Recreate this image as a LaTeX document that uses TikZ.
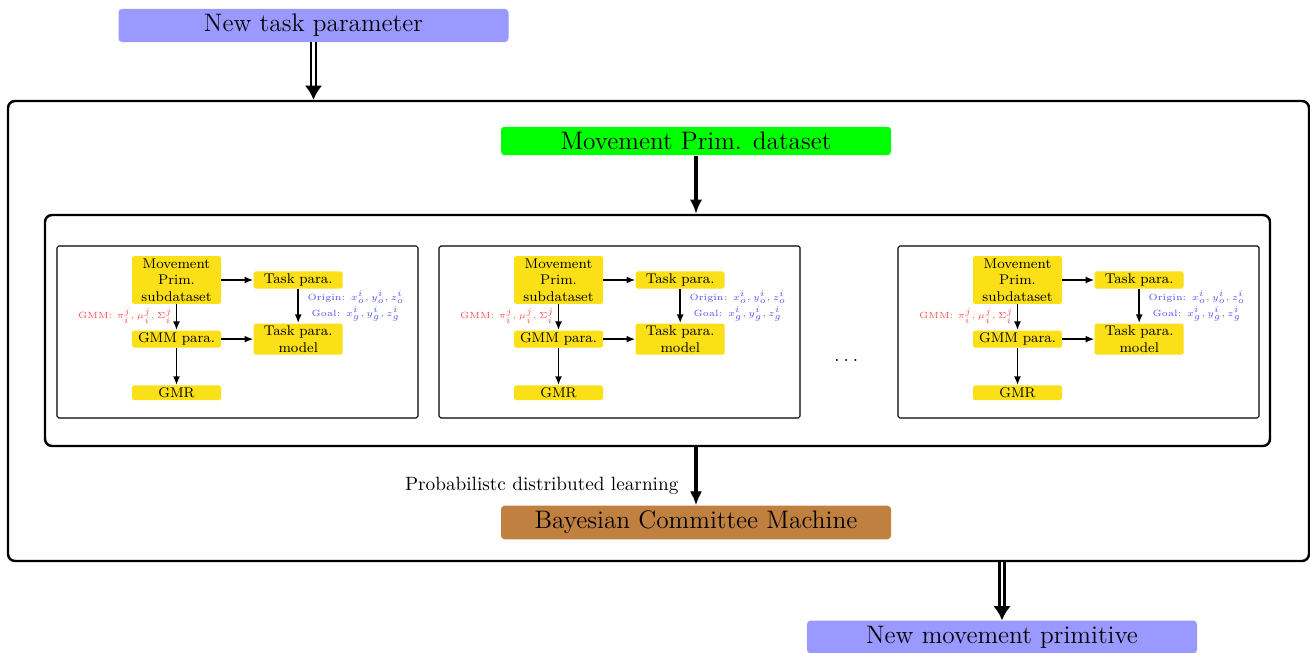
\documentclass[tikz,border=0pt]{standalone}
\usepackage{amsmath, amssymb}
\usepackage{tikz}
\usetikzlibrary{arrows.meta, positioning, calc}
\definecolor{ParaBlue}{HTML}{9999FF}
\definecolor{DataGreen}{HTML}{00FF00}
\definecolor{BcmBrown}{HTML}{C08040}
\definecolor{SubYellow}{HTML}{FBE017}
\definecolor{GmmRed}{HTML}{FF4D4D}
\definecolor{GoalBlue}{HTML}{4D4DFF}

\begin{document}
\begin{tikzpicture}[>=Latex, node distance=0.6cm]
        \tikzstyle{bigbox}     = [rectangle, rounded corners=2pt, minimum width=7.8cm, inner ysep=3pt, font=\Large]
        \tikzstyle{outerframe} = [rectangle, draw, line width=1.4pt, rounded corners=4pt]
        \tikzstyle{subframe}   = [rectangle, draw, semithick, rounded corners=1pt, minimum width=7.22cm, minimum height=3.44cm]
        \tikzstyle{ybox}       = [rectangle, fill=SubYellow, rounded corners=1pt, text width=1.6cm, inner xsep=0.09cm, inner ysep=1.3pt, align=center, font=\footnotesize]
        \tikzstyle{tinylabel}  = [font=\fontsize{5.1}{9}\selectfont, inner sep=2pt]
        \tikzstyle{bigarrow}   = [-{Latex[length=8pt,width=7pt]}, line width=2pt]
        \tikzstyle{dblarrow}   = [-{Latex[length=8pt,width=10pt]}, double, ultra thick, double distance=1.2pt]
        \tikzstyle{smallarrow} = [-{Latex[length=5pt,width=4pt]}, line width=1pt]

        \useasboundingbox (0,0) rectangle (26.2,-13.06);

        % Frames
        \node[outerframe, minimum width=26.02cm, minimum height=9.2cm] (outer) at (13.17,-6.62) {};
        \node[outerframe, minimum width=24.5cm, minimum height=4.62cm] (inner) at (13.15,-6.61) {};

        % Main boxes
        \node[bigbox, fill=ParaBlue] (task) at (6.27,-0.51) {New task parameter};
        \node[bigbox, fill=DataGreen] (mpd) at (13.92,-2.82) {Movement Prim. dataset};
        \node[bigbox, fill=BcmBrown] (bcm) at (13.92,-10.45) {Bayesian Committee Machine};
        \node[bigbox, fill=ParaBlue] (newmp) at (20.04,-12.74) {New movement primitive};

        % Sub-datasets
        \foreach \k/\x in {a/1.14, b/8.78, c/17.96} {
            \node[subframe] (box\k) at ({\x+3.61},-6.64) {};
            \node[ybox] (sub\k) at ({\x+2.39},-5.6) {Movement Prim. subdataset};
            \node[ybox, right=0.64cm of sub\k] (tp\k) {Task para.};
            \node[ybox, below=0.52cm of sub\k] (gmm\k) {GMM para.};
            \node[ybox, right=0.64cm of gmm\k] (tpm\k) {Task para.\\ model};
            \node[ybox, below=0.74cm of gmm\k] (gmr\k) {GMR};

            \draw[smallarrow] (sub\k) -- (tp\k);
            \draw[smallarrow] (sub\k) -- node[tinylabel, left, pos=0.45, text=GmmRed] {GMM: $\pi_i^j, \mu_i^j, \Sigma_i^j$} (gmm\k);
            \draw[smallarrow] (tp\k) -- node[tinylabel, right, pos=0.5, xshift=0.1cm, text=GoalBlue, align=center] {Origin: $x_o^i, y_o^i, z_o^i$\\ Goal: $x_g^i, y_g^i, z_g^i$} (tpm\k);
            \draw[smallarrow] (gmm\k) -- (tpm\k);
            \draw[smallarrow] (gmm\k) -- (gmr\k);
        }
        \node[font=\large] (dots) at (16.96,-7.2) {$\dots$};

        % Arrows
        \draw[dblarrow] (task.south) -- (task.south |- outer.north);
        \draw[bigarrow] (mpd.south) -- (mpd.south |- inner.north);
        \draw[bigarrow] (bcm.north |- inner.south) -- node[left, pos=0.67, xshift=-0.2cm, font=\fontsize{10.95}{13.6}\selectfont] {Probabilistc distributed learning} (bcm.north);
        \draw[dblarrow] (newmp.north |- outer.south) -- (newmp.north);
    \end{tikzpicture}
\end{document}
